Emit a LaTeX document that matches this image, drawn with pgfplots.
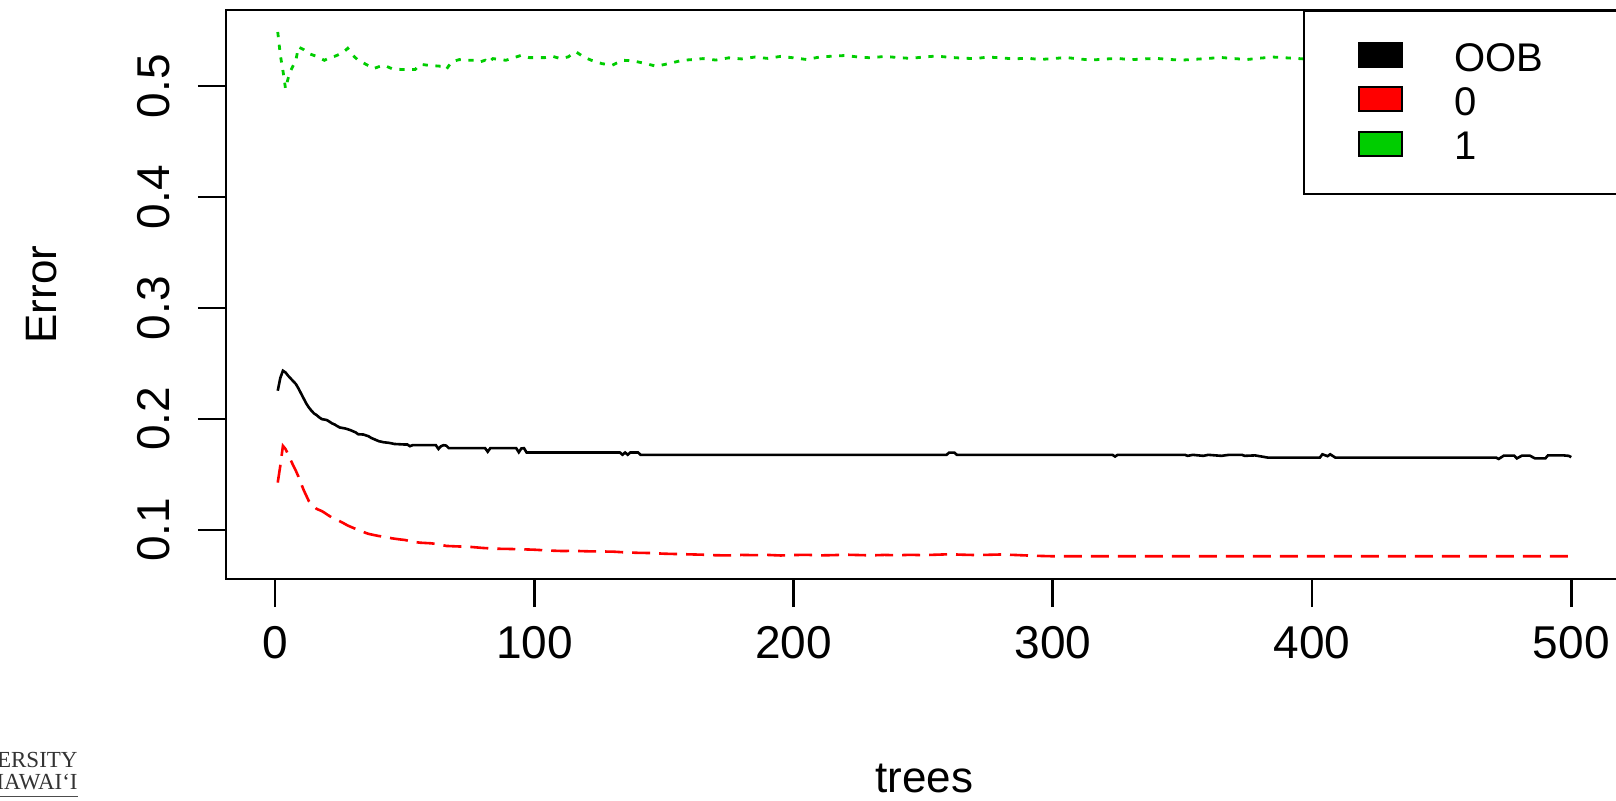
\documentclass[border=0pt]{standalone}
\usepackage{fontspec}
\setmainfont{Liberation Sans}
\newfontfamily\logofont{Liberation Serif}
\usepackage{pgfplots}
\usepackage{pgfplotstable}
\pgfplotsset{compat=1.18}
\definecolor{rred}{RGB}{255,0,0}
\definecolor{rgreen}{RGB}{0,205,0}

% OOB error rate per number of trees
\pgfplotstableread{
tree err
1 0.2255
2 0.2370
3 0.2435
4 0.2420
5 0.2390
6 0.2365
7 0.2340
8 0.2315
9 0.2275
10 0.2230
11 0.2185
12 0.2140
13 0.2104
14 0.2075
15 0.2050
16 0.2035
17 0.2015
18 0.1999
19 0.1995
20 0.1990
21 0.1975
22 0.1960
23 0.1950
24 0.1935
25 0.1923
27 0.1915
29 0.1900
31 0.1880
32 0.1863
34 0.1860
36 0.1845
37 0.1830
38 0.1820
39 0.1810
40 0.1800
42 0.1790
44 0.1785
46 0.1775
50 0.1770
51 0.1770
52 0.1755
53 0.1764
62 0.1764
63 0.1730
64 0.1755
65 0.1764
66 0.1760
67 0.1737
81 0.1737
82 0.1705
83 0.1737
93 0.1737
94 0.1700
95 0.1735
96 0.1737
97 0.1698
133 0.1698
134 0.1678
135 0.1698
136 0.1678
137 0.1698
140 0.1698
141 0.1677
259 0.1677
260 0.1697
262 0.1697
263 0.1677
323 0.1677
324 0.1662
325 0.1677
351 0.1677
352 0.1668
354 0.1677
358 0.1668
360 0.1677
365 0.1668
368 0.1677
373 0.1677
374 0.1668
378 0.1672
383 0.1652
403 0.1652
404 0.1682
406 0.1665
407 0.1682
409 0.1652
471 0.1652
472 0.1640
474 0.1670
478 0.1670
479 0.1645
481 0.1670
484 0.1670
486 0.1645
490 0.1645
491 0.1672
497 0.1672
499 0.1668
500 0.1656
}\oobdata

% class 0 error rate
\pgfplotstableread{
tree err
1 0.1427
2 0.1580
3 0.1758
4 0.1730
5 0.1680
6 0.1630
7 0.1580
8 0.1533
9 0.1480
10 0.1420
11 0.1360
12 0.1310
13 0.1260
14 0.1230
16 0.1190
18 0.1170
19 0.1156
20 0.1140
22 0.1110
24 0.1090
26 0.1066
28 0.1040
30 0.1020
33 0.0990
36 0.0965
39 0.0950
42 0.0937
45 0.0925
48 0.0915
50 0.0910
53 0.0894
56 0.0885
60 0.0880
63 0.0872
66 0.0856
70 0.0852
75 0.0848
80 0.0838
85 0.0831
90 0.0829
95 0.0826
100 0.0822
105 0.0815
111 0.0810
115 0.0812
120 0.0808
125 0.0806
130 0.0805
135 0.0798
140 0.0794
145 0.0792
150 0.0786
155 0.0783
160 0.0780
165 0.0777
170 0.0772
175 0.0771
180 0.0775
185 0.0773
190 0.0775
195 0.0770
200 0.0774
205 0.0776
210 0.0771
215 0.0773
220 0.0777
225 0.0774
230 0.0771
235 0.0775
240 0.0772
245 0.0776
250 0.0773
255 0.0777
260 0.0781
265 0.0777
270 0.0774
275 0.0776
280 0.0779
285 0.0775
290 0.0770
295 0.0766
300 0.0763
400 0.0763
500 0.0763
}\zerodata

% class 1 error rate
\pgfplotstableread{
tree err
1 0.5488
2 0.5280
3 0.5140
4 0.4977
5 0.5070
6 0.5140
8 0.5235
9 0.5353
11 0.5329
13 0.5293
16 0.5268
19 0.5233
21 0.5257
23 0.5269
26 0.5299
28 0.5341
30 0.5278
32 0.5233
35 0.5197
38 0.5158
40 0.5175
42 0.5188
45 0.5158
49 0.5149
54 0.5149
56 0.5197
59 0.5188
64 0.5179
66 0.5149
68 0.5218
71 0.5239
74 0.5233
77 0.5233
79 0.5218
81 0.5233
82 0.5209
84 0.5248
89 0.5233
95 0.5278
98 0.5257
104 0.5257
107 0.5269
110 0.5248
113 0.5263
116 0.5310
119 0.5263
122 0.5233
126 0.5203
130 0.5188
134 0.5233
138 0.5228
143 0.5203
147 0.5179
153 0.5209
157 0.5233
161 0.5239
165 0.5248
170 0.5235
175 0.5255
180 0.5245
185 0.5262
190 0.5250
195 0.5268
200 0.5255
205 0.5240
210 0.5262
215 0.5270
220 0.5276
225 0.5262
230 0.5255
235 0.5268
240 0.5258
245 0.5250
250 0.5262
255 0.5271
260 0.5260
265 0.5252
270 0.5248
275 0.5262
280 0.5255
285 0.5245
290 0.5252
295 0.5240
300 0.5248
305 0.5258
310 0.5245
315 0.5235
320 0.5244
325 0.5250
330 0.5238
335 0.5245
340 0.5250
345 0.5240
350 0.5235
355 0.5242
360 0.5250
365 0.5258
370 0.5248
375 0.5240
380 0.5252
385 0.5262
390 0.5255
395 0.5248
400 0.5240
405 0.5245
410 0.5238
420 0.5250
430 0.5245
440 0.5238
450 0.5242
460 0.5250
470 0.5245
480 0.5240
490 0.5246
500 0.5243
}\onedata

\begin{document}
\begin{tikzpicture}
\begin{axis}[
  at={(113pt,110.5pt)}, anchor=south west,
  scale only axis,
  width=698.5pt, height=284.5pt,
  xmin=-18.96, xmax=519.96,
  ymin=0.0558, ymax=0.5686,
  xtick={0,100,200,300,400,500},
  xticklabels={0,100,200,300,400,500},
  ytick={0.1,0.2,0.3,0.4,0.5},
  yticklabels={0.1,0.2,0.3,0.4,0.5},
  xtick pos=left, ytick pos=left,
  tick align=outside,
  major tick length=14pt,
  tick style={black, line width=1.35pt},
  axis line style={line width=1.35pt},
  ticklabel style={font=\fontsize{23}{27}\selectfont, inner sep=0pt},
  xticklabel style={anchor=north},
  yticklabel style={rotate=90, anchor=base},
  xticklabel shift=9.5pt,
  yticklabel shift=14pt,
  xlabel={trees}, ylabel={Error},
  every axis x label/.style={at={(axis description cs:0.5,-0.375)}, anchor=base, inner sep=0pt, font=\fontsize{22}{26}\selectfont},
  every axis y label/.style={at={(axis description cs:-0.121,0.5)}, rotate=90, anchor=south, inner sep=0pt, font=\fontsize{22}{26}\selectfont},
  legend cell align=left,
  legend style={at={(1,1)}, anchor=north east, draw=black, line width=1pt, fill=white,
    font=\fontsize{20}{23}\selectfont, inner xsep=27pt, inner ysep=15.5pt,
    row sep=6.1pt, column sep=25.5pt, nodes={inner sep=0pt}},
]
\addplot[black, line width=1.3pt, no markers,
  legend image code/.code={\draw[solid, draw=black, line width=0.8pt, fill=black] (0pt,-4pt) rectangle (21.5pt,8pt);}]
  table[x=tree, y=err] {\oobdata};
\addlegendentry{\makebox[57pt][l]{OOB}}
\addplot[rred, line width=1.3pt, no markers, dash pattern=on 9pt off 4.5pt,
  legend image code/.code={\draw[solid, draw=black, line width=0.8pt, fill=rred] (0pt,-4pt) rectangle (21.5pt,8pt);}]
  table[x=tree, y=err] {\zerodata};
\addlegendentry{0}
\addplot[rgreen, line width=1.4pt, no markers, dash pattern=on 2.6pt off 3.8pt,
  legend image code/.code={\draw[solid, draw=black, line width=0.8pt, fill=rgreen] (0pt,-4pt) rectangle (21.5pt,8pt);}]
  table[x=tree, y=err] {\onedata};
\addlegendentry{1}
\end{axis}
% partly cut-off logo at the lower left
\node[anchor=base east, font=\logofont\fontsize{11.5}{12}\selectfont, text=black!80, inner sep=0pt] at (39pt,16.5pt) {UNIVERSITY};
\node[anchor=base east, font=\logofont\fontsize{11.5}{12}\selectfont, text=black!80, inner sep=0pt] at (39pt,5.5pt) {of HAWAI{\char"02BB}I};
\draw[black!70, line width=0.6pt] (0pt,1.8pt) -- (39pt,1.8pt);
\pgfresetboundingbox
\path[use as bounding box] (0pt,0pt) rectangle (808pt,400pt);
\end{tikzpicture}
\end{document}
